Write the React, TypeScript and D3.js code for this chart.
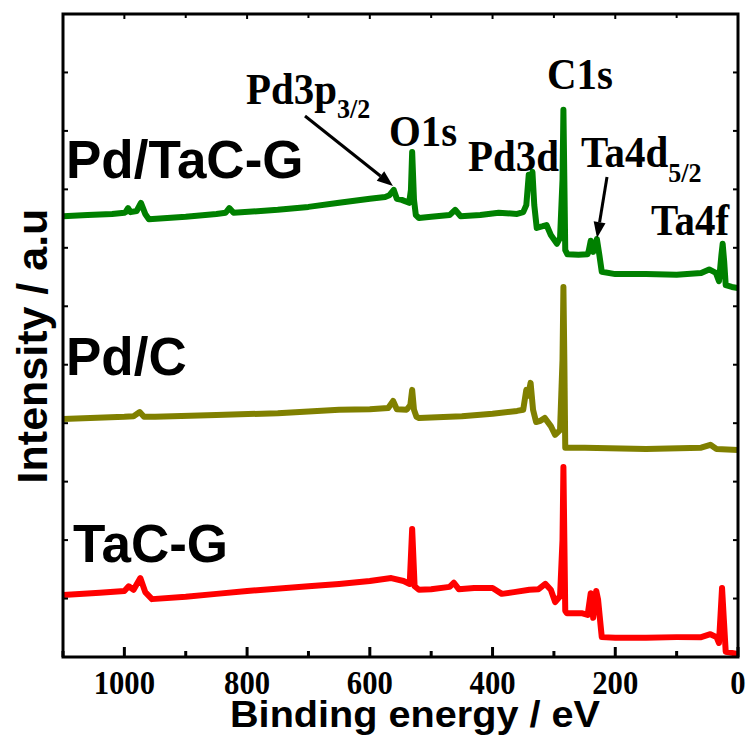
import React from 'react'
import * as d3 from 'd3'

// binding energy (eV) / intensity (a.u.)
const pdTacgEnergy = [1100, 1060, 1020, 1000, 998, 994, 990, 980, 973, 966, 960, 900, 850, 835, 829, 822, 750, 700, 650, 600, 575, 568, 561, 556, 548, 536, 533, 531, 528, 525, 520, 500, 470, 461, 452, 420, 390, 360, 350, 345, 341, 338, 335, 332, 328, 318, 312, 305, 295, 290, 286, 284.5, 283, 281.5, 278, 260, 245, 243, 240, 236, 230, 226, 222, 200, 150, 100, 60, 47, 36, 31, 27, 25, 22.5, 20, 10, 0]
const pdTacgValue = [75.4, 75.6, 75.8, 76.0, 76.1, 76.8, 76.1, 76.3, 77.7, 75.8, 74.9, 75.3, 75.8, 76.0, 76.8, 76.0, 76.5, 77.0, 77.7, 78.4, 78.7, 79.0, 79.9, 78.4, 78.2, 77.7, 79.9, 86.4, 78.2, 75.6, 75.1, 75.3, 75.6, 76.5, 75.4, 75.6, 76.0, 75.8, 76.1, 77.3, 82.5, 80.8, 83.0, 77.3, 73.4, 73.7, 73.9, 72.2, 70.7, 71.7, 81.6, 93.6, 81.6, 69.6, 68.9, 68.8, 68.9, 69.6, 71.2, 69.3, 71.5, 68.8, 65.9, 65.5, 65.5, 65.4, 65.7, 66.3, 65.7, 64.3, 68.8, 70.7, 67.6, 63.6, 63.3, 63.1]

const pdcEnergy = [1100, 1000, 985, 975, 968, 950, 850, 750, 650, 600, 570, 562, 556, 540, 534, 531, 528, 524, 520, 450, 400, 360, 350, 345, 342, 338, 334, 329, 322, 315, 305, 298, 290, 286, 284.5, 283, 281.5, 250, 150, 60, 45, 35, 0]
const pdcValue = [40.7, 41.1, 41.2, 41.9, 41.1, 41.1, 41.4, 41.7, 42.3, 42.4, 42.6, 43.8, 42.4, 42.3, 43.1, 45.7, 42.3, 41.1, 40.9, 41.2, 41.6, 42.1, 42.3, 45.7, 44.7, 46.9, 42.3, 40.2, 40.4, 40.9, 39.5, 38.0, 38.8, 50.8, 63.3, 50.8, 35.8, 35.8, 35.6, 35.8, 36.3, 35.6, 35.4]

const tacgEnergy = [1100, 1040, 1000, 993, 985, 974, 966, 955, 900, 850, 800, 700, 650, 600, 565, 545, 535, 531, 527, 520, 500, 470, 463, 455, 430, 400, 385, 365, 340, 325, 314, 305, 298, 290, 286, 284.5, 283, 281.5, 279, 255, 245, 240, 236, 231, 228, 224, 222, 200, 150, 100, 60, 45, 35, 31, 26, 23, 20, 10, 0]
const tacgValue = [10.6, 11.0, 11.3, 12.1, 11.5, 13.5, 11.1, 9.9, 10.3, 10.8, 11.3, 12.1, 12.5, 13.0, 13.5, 13.0, 12.5, 21.9, 12.1, 11.5, 11.6, 12.0, 12.7, 11.6, 11.8, 11.8, 10.8, 11.1, 11.5, 11.6, 12.5, 11.5, 9.4, 10.4, 20.0, 32.5, 20.0, 7.9, 7.5, 7.5, 7.2, 10.9, 6.7, 11.3, 9.8, 5.5, 3.4, 3.3, 3.3, 3.4, 3.4, 3.9, 3.4, 2.4, 11.8, 6.3, 0.9, 0.7, 0.5]

const sampleNames = ['Pd/TaC-G', 'Pd/C', 'TaC-G']
const sampleColors = ['#008000', '#808000', '#ff0000']
const xTickValues = [1000, 800, 600, 400, 200, 0]
const xMinorValues = [1100, 900, 700, 500, 300, 100]

const width = 750
const height = 742
const margin = { top: 14, right: 12, bottom: 85, left: 63 }

const sans = '"Liberation Sans", Arial, sans-serif'
const serif = '"Liberation Serif", "Times New Roman", serif'

function Arrow({ x1, y1, x2, y2 }: { x1: number; y1: number; x2: number; y2: number }) {
  const a = Math.atan2(y2 - y1, x2 - x1)
  const len = 16
  const half = 6
  const bx = x2 - len * Math.cos(a)
  const by = y2 - len * Math.sin(a)
  const px = -Math.sin(a) * half
  const py = Math.cos(a) * half
  return (
    <g>
      <line x1={x1} y1={y1} x2={bx} y2={by} stroke="#000" strokeWidth={3} />
      <polygon points={`${x2},${y2} ${bx + px},${by + py} ${bx - px},${by - py}`} fill="#000" />
    </g>
  )
}

// narrow serif text, like the condensed Times of the original
function SerifLabel({ x, y, size, children, anchor }: { x: number; y: number; size: number; children: React.ReactNode; anchor?: string }) {
  return (
    <text
      transform={`translate(${x},${y}) scale(0.93,1)`}
      fontFamily={serif}
      fontWeight="bold"
      fontSize={size}
      textAnchor={anchor || 'start'}
    >
      {children}
    </text>
  )
}

export default function App() {
  const innerW = width - margin.left - margin.right
  const innerH = height - margin.top - margin.bottom
  const x0 = margin.left
  const x1 = margin.left + innerW
  const y0 = margin.top
  const y1 = margin.top + innerH

  const xScale = d3.scaleLinear().domain([1100, 0]).range([x0, x1])
  const yScale = d3.scaleLinear().domain([0, 110]).range([y1, y0])
  const yTicks = d3.range(10, 110, 10)

  const series = [
    { e: pdTacgEnergy, v: pdTacgValue },
    { e: pdcEnergy, v: pdcValue },
    { e: tacgEnergy, v: tacgValue },
  ]

  const line = d3
    .line<[number, number]>()
    .x(d => xScale(d[0]))
    .y(d => yScale(d[1]))

  const labelPos = [
    { x: 66, y: 178 },
    { x: 66, y: 375 },
    { x: 73, y: 562 },
  ]

  return (
    <svg width={width} height={height} style={{ position: 'absolute', left: 0, top: 0, background: '#fff' }}>
      <defs>
        <clipPath id="plot">
          <rect x={x0} y={y0 - 4} width={innerW} height={innerH + 4} />
        </clipPath>
      </defs>

      <g clipPath="url(#plot)">
        {series.map((s, i) => (
          <path
            key={i}
            d={line(s.e.map((e, k) => [e, s.v[k]] as [number, number])) || ''}
            fill="none"
            stroke={sampleColors[i]}
            strokeWidth={6}
            strokeLinejoin="round"
            strokeLinecap="round"
          />
        ))}
      </g>

      {/* frame */}
      <rect x={x0} y={y0} width={innerW} height={innerH} fill="none" stroke="#000" strokeWidth={3} />

      {/* x ticks bottom and top */}
      {xTickValues.map(t => (
        <g key={'mx' + t}>
          <line x1={xScale(t)} x2={xScale(t)} y1={y1} y2={y1 - 10} stroke="#000" strokeWidth={3} />
          <line x1={xScale(t)} x2={xScale(t)} y1={y0} y2={y0 + 5} stroke="#000" strokeWidth={2} />
          <SerifLabel x={xScale(t)} y={y1 + 37} size={33} anchor="middle">
            {t}
          </SerifLabel>
        </g>
      ))}
      {xMinorValues.map(t => (
        <g key={'nx' + t}>
          <line x1={xScale(t)} x2={xScale(t)} y1={y1} y2={y1 - 6} stroke="#000" strokeWidth={3} />
          <line x1={xScale(t)} x2={xScale(t)} y1={y0} y2={y0 + 4} stroke="#000" strokeWidth={2} />
        </g>
      ))}

      {/* y ticks left and right, no labels */}
      {yTicks.map(t => (
        <g key={'y' + t}>
          <line x1={x0} x2={x0 + 5} y1={yScale(t)} y2={yScale(t)} stroke="#000" strokeWidth={2} />
          <line x1={x1} x2={x1 - 5} y1={yScale(t)} y2={yScale(t)} stroke="#000" strokeWidth={2} />
        </g>
      ))}

      {/* axis titles */}
      <text
        x={230}
        y={727}
        fontFamily={sans}
        fontWeight="bold"
        fontSize={37}
        textLength={370}
        lengthAdjust="spacingAndGlyphs"
      >
        Binding energy / eV
      </text>
      <text
        transform="translate(47,346) rotate(-90)"
        textAnchor="middle"
        fontFamily={sans}
        fontWeight="bold"
        fontSize={43}
      >
        Intensity / a.u
      </text>

      {/* sample names */}
      {sampleNames.map((n, i) => (
        <text key={n} x={labelPos[i].x} y={labelPos[i].y} fontFamily={sans} fontWeight="bold" fontSize={53}>
          {n}
        </text>
      ))}

      {/* peak annotations */}
      <SerifLabel x={246} y={104} size={44}>
        Pd3p<tspan fontSize={28} dy={14}>3/2</tspan>
      </SerifLabel>
      <SerifLabel x={389} y={146} size={44}>O1s</SerifLabel>
      <SerifLabel x={468} y={171} size={44}>Pd3d</SerifLabel>
      <SerifLabel x={547} y={89} size={44}>C1s</SerifLabel>
      <SerifLabel x={581} y={167} size={44}>
        Ta4d<tspan fontSize={28} dy={15}>5/2</tspan>
      </SerifLabel>
      <SerifLabel x={651} y={235} size={44}>Ta4f</SerifLabel>

      <Arrow x1={305} y1={116} x2={393} y2={186} />
      <Arrow x1={607} y1={177} x2={597} y2={238} />
    </svg>
  )
}
